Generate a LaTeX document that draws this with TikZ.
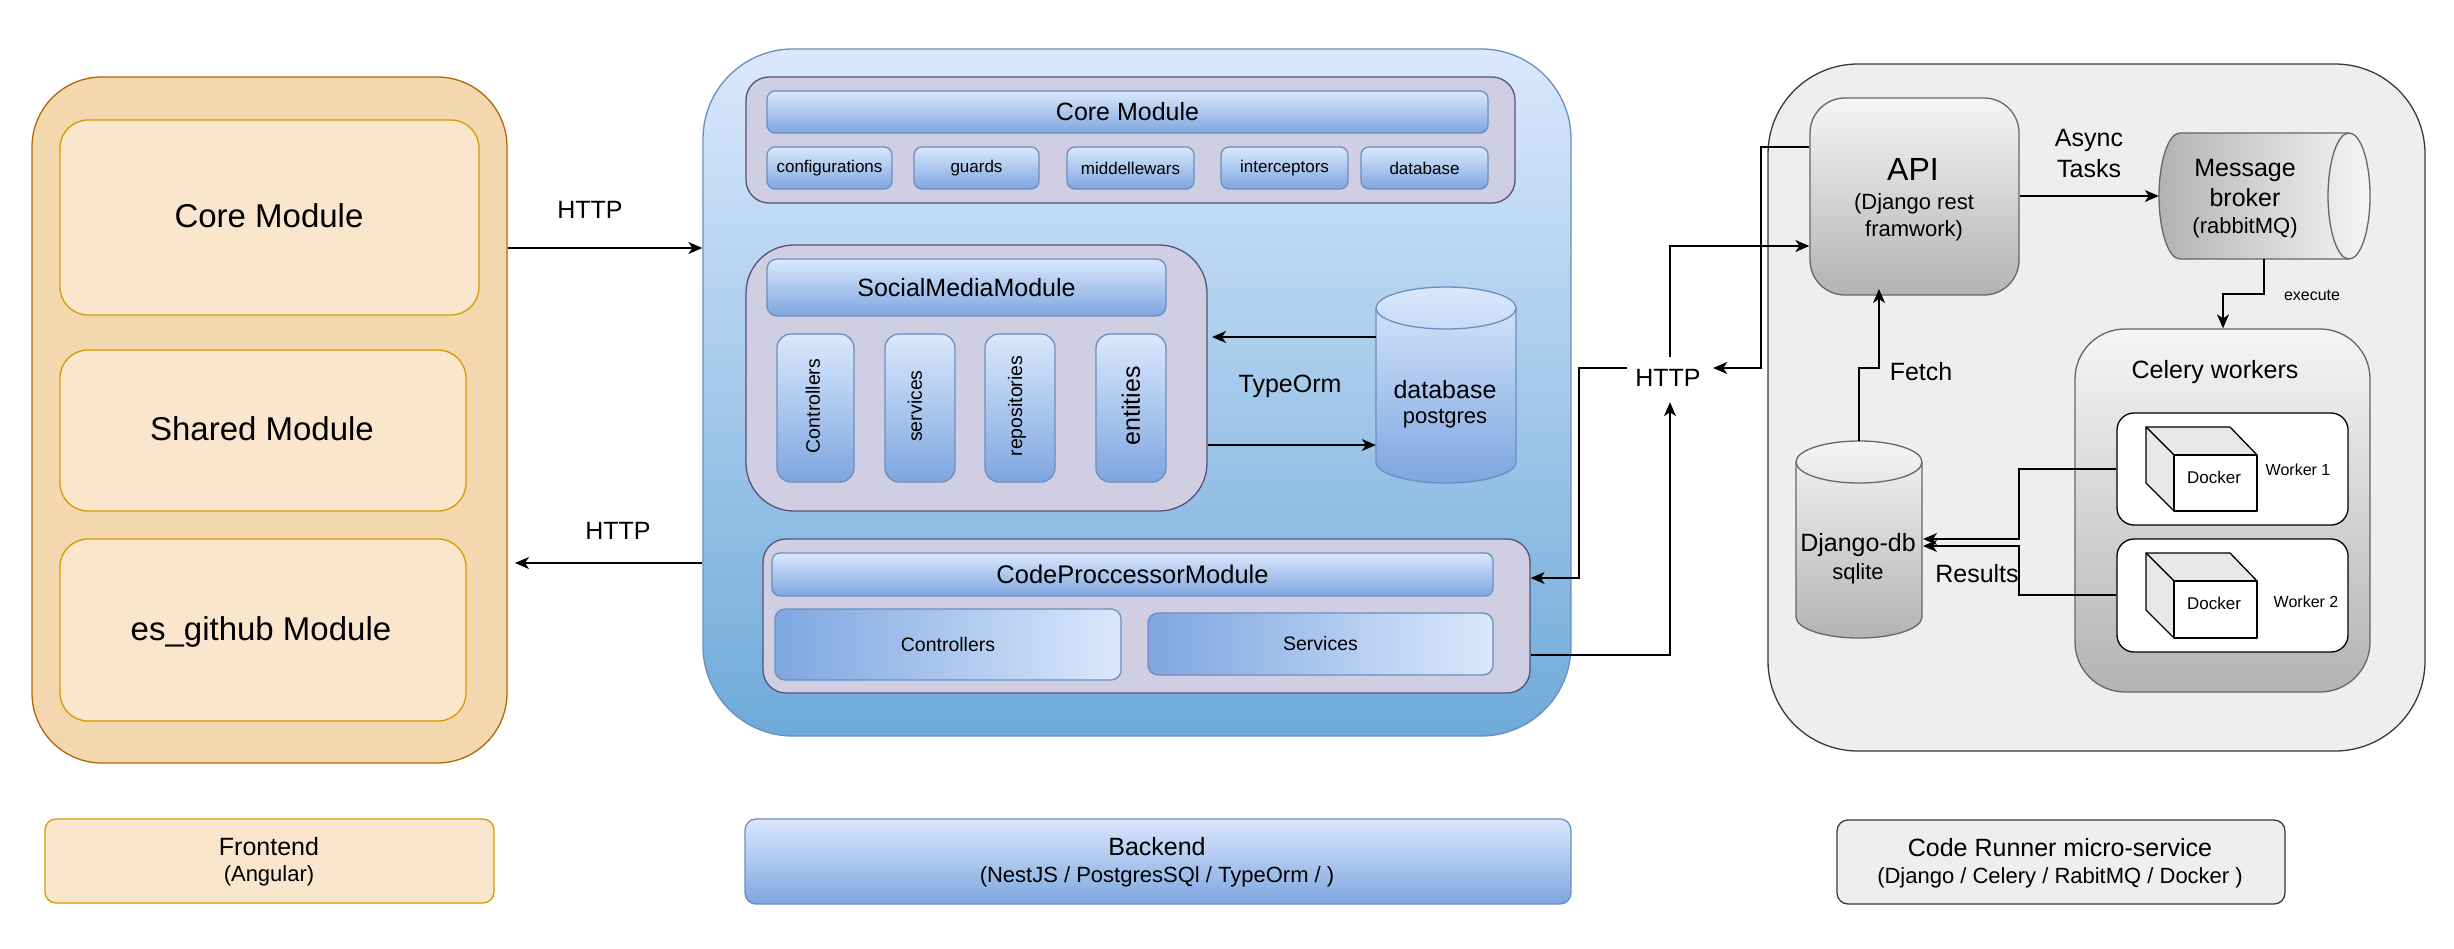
\documentclass[tikz,border=0pt]{standalone}
\usepackage{fontspec}
\setmainfont{Liberation Sans}
\usetikzlibrary{arrows.meta}
\definecolor{orfill}{HTML}{F3D7AE}
\definecolor{orline}{HTML}{B46504}
\definecolor{orin}{HTML}{FAE5CD}
\definecolor{orinl}{HTML}{D79B00}
\definecolor{blt}{HTML}{DAE8FC}
\definecolor{blb}{HTML}{7EA6E0}
\definecolor{bll}{HTML}{6C8EBF}
\definecolor{blo}{HTML}{6EAAD9}
\definecolor{pur}{HTML}{D0CEE2}
\definecolor{purl}{HTML}{56517E}
\definecolor{grl}{HTML}{F5F5F5}
\definecolor{grd}{HTML}{B3B3B3}
\definecolor{grs}{HTML}{666666}
\definecolor{grbg}{HTML}{EEEEEE}
\definecolor{grbl}{HTML}{36393D}
\definecolor{cubeg}{HTML}{E8E8E8}
\newcommand\fs[1]{\fontsize{#1}{#1}\selectfont}
% [style]{name}{x0}{y0}{x1}{y1}{text}
\newcommand\rb[7][]{%
  \pgfmathsetmacro\rbcx{(#3+#5)/2}\pgfmathsetmacro\rbcy{(#4+#6)/2}%
  \pgfmathsetmacro\rbw{#5-#3}\pgfmathsetmacro\rbh{#6-#4}%
  \node[rectangle,inner sep=0pt,minimum width=\rbw pt,minimum height=\rbh pt,#1] (#2) at (\rbcx,\rbcy) {#7};}
% {name}{x}{y}{size}{text}
\newcommand\tx[5]{\node[txt] (#1) at (#2,#3) {\fs{#4}#5};}
\newcommand\rtx[5]{\node[txt,rotate=90] (#1) at (#2,#3) {\fs{#4}#5};}
% vertical cylinder {stroke}{top colour}{bottom colour}{name}{x0}{y0}{x1}{y1}; ry=21
\newcommand\cylv[8]{%
  \pgfmathsetmacro\cyrx{(#7-#5)/2}\pgfmathsetmacro\cyt{#6+21}\pgfmathsetmacro\cyb{#8-21}%
  \path[frame,draw=#1,top color=#2,bottom color=#3] (#5,\cyt) arc[start angle=180,end angle=360,x radius=\cyrx,y radius=21]
     -- (#7,\cyb) arc[start angle=0,end angle=180,x radius=\cyrx,y radius=21] -- cycle;
  \draw[frame,draw=#1] (#5,\cyt) arc[start angle=180,end angle=0,x radius=\cyrx,y radius=21];
  \rb{#4}{#5}{#6}{#7}{#8}{}}
\tikzset{
  x=1pt,y=-1pt,
  txt/.style={inner sep=0pt,align=center,text=black},
  frame/.style={line width=1.3pt},
  feouter/.style={frame,draw=orline,fill=orfill,rounded corners=70pt},
  fein/.style={frame,draw=orinl,fill=orin,rounded corners=28pt},
  felab/.style={frame,draw=orinl,fill=orin,rounded corners=11pt},
  beouter/.style={frame,draw=bll,top color=blt,bottom color=blo,rounded corners=90pt},
  module/.style={frame,draw=purl,fill=pur},
  hdr/.style={frame,draw=bll,top color=blt,bottom color=blb,rounded corners=8pt},
  hdrr/.style={frame,draw=bll,left color=blb,right color=blt,rounded corners=10pt},
  vbox/.style={frame,draw=bll,top color=blt,bottom color=blb,rounded corners=14pt},
  grbox/.style={frame,draw=grs,top color=grl,bottom color=grd},
  runner/.style={frame,draw=grbl,fill=grbg,rounded corners=90pt},
  worker/.style={frame,draw=black,fill=white,rounded corners=17pt},
  cubef/.style={line width=1.3pt,draw=black,line join=round},
  conn/.style={line width=1.5pt,draw=black,-{Stealth[length=14pt,width=12pt,inset=4pt]}},
}
\begin{document}
\begin{tikzpicture}
\useasboundingbox (0,0) rectangle (2454,948);
% Frontend
\rb[feouter]{fe}{32}{77}{507}{763}{}
\rb[fein]{fecore}{60}{120}{479}{315}{}
\rb[fein]{feshared}{60}{350}{466}{511}{}
\rb[fein]{fees}{60}{539}{466}{721}{}
\tx{fecoret}{269}{216}{33}{Core Module}
\tx{fesharedt}{262}{429}{33}{Shared Module}
\tx{feest}{261}{632}{33}{es\_github Module}
\rb[felab]{felabel}{45}{819}{494}{903}{}
\tx{fet1}{269}{847}{25}{Frontend}
\tx{fet2}{269}{876}{22}{(Angular)}
\tx{http1}{590}{210}{25}{HTTP}
\tx{http2}{618}{531}{25}{HTTP}
% Backend
\rb[beouter]{be}{703}{49}{1571}{736}{}
\rb[module,rounded corners=23pt]{bcore}{746}{77}{1515}{203}{}
\rb[hdr]{bcoreh}{767}{91}{1488}{133}{\fs{25}Core Module}
\rb[hdr]{b1}{767}{147}{892}{189}{\fs{17}configurations}
\rb[hdr]{b2}{914}{147}{1039}{189}{\fs{17}guards}
\rb[hdr]{b3}{1067}{147}{1194}{189}{\fs{17}middellewars}
\rb[hdr]{b4}{1221}{147}{1348}{189}{\fs{17}interceptors}
\rb[hdr]{b5}{1361}{147}{1488}{189}{\fs{17}database}
\rb[module,rounded corners=48pt]{social}{746}{245}{1207}{511}{}
\rb[hdr,rounded corners=10pt]{socialh}{767}{259}{1166}{316}{\fs{25}SocialMediaModule}
\rb[vbox]{v1}{777}{334}{854}{482}{}
\rb[vbox]{v2}{885}{334}{955}{482}{}
\rb[vbox]{v3}{985}{334}{1055}{482}{}
\rb[vbox]{v4}{1096}{334}{1166}{482}{}
\rtx{vt1}{813}{406}{19.5}{Controllers}
\rtx{vt2}{915}{406}{19.5}{services}
\rtx{vt3}{1017}{406}{19.5}{repositories}
\rtx{vt4}{1131}{406}{25}{entities}
\cylv{bll}{blt}{blb}{dbp}{1376}{287}{1516}{483}
\tx{dbt1}{1445}{390}{25}{database}
\tx{dbt2}{1445}{419}{22}{postgres}
\tx{typeorm}{1290}{386}{25}{TypeOrm}
\rb[module,rounded corners=23pt]{code}{763}{539}{1530}{693}{}
\rb[hdr]{codeh}{772}{553}{1493}{596}{\fs{25.5}CodeProccessorModule}
\rb[hdrr]{cctrl}{775}{609}{1121}{680}{\fs{19.5}Controllers}
\rb[hdrr]{csvc}{1148}{613}{1493}{675}{\fs{19.5}Services}
\rb[hdr,rounded corners=11pt]{belabel}{745}{819}{1571}{904}{}
\tx{bet1}{1157}{847}{25}{Backend}
\tx{bet2}{1157}{877}{22}{(NestJS / PostgresSQl / TypeOrm / )}
% Runner
\rb[runner]{run}{1768}{64}{2425}{751}{}
\rb[grbox,rounded corners=35pt]{api}{1810}{98}{2019}{295}{}
\tx{apit1}{1913}{169}{32}{API}
\tx{apit2}{1914}{204}{22}{(Django rest}
\tx{apit3}{1914}{231}{22}{framwork)}
\tx{async1}{2089}{140}{25}{Async}
\tx{async2}{2089}{169}{25}{Tasks}
% message broker
\path[frame,draw=grs,left color=grd,right color=grl]
  (2349,133) arc[start angle=270,end angle=450,x radius=21,y radius=63]
  -- (2180,259) arc[start angle=90,end angle=270,x radius=21,y radius=63] -- cycle;
\draw[frame,draw=grs] (2349,133) arc[start angle=270,end angle=90,x radius=21,y radius=63];
\rb{mb}{2159}{133}{2370}{259}{}
\tx{mbt1}{2245}{170}{25}{Message}
\tx{mbt2}{2245}{198}{25}{broker}
\tx{mbt3}{2245}{228}{22}{(rabbitMQ)}
\tx{exec}{2312}{295}{16}{execute}
\rb[grbox,rounded corners=50pt]{celery}{2075}{329}{2370}{692}{}
\tx{celt}{2215}{372}{25}{Celery workers}
\rb[worker]{w1}{2117}{413}{2348}{525}{}
\rb[worker]{w2}{2117}{539}{2348}{652}{}
% cubes
\path[cubef,fill=cubeg] (2146,427) -- (2230,427) -- (2257,455) -- (2174,455) -- cycle;
\path[cubef,fill=cubeg] (2146,427) -- (2174,455) -- (2174,511) -- (2146,483) -- cycle;
\rb[cubef,fill=white]{c1}{2174}{455}{2257}{511}{}
\tx{c1t}{2214}{477}{17}{Docker}
\path[cubef,fill=cubeg] (2146,553) -- (2230,553) -- (2257,581) -- (2174,581) -- cycle;
\path[cubef,fill=cubeg] (2146,553) -- (2174,581) -- (2174,638) -- (2146,610) -- cycle;
\rb[cubef,fill=white]{c2}{2174}{581}{2257}{638}{}
\tx{c2t}{2214}{603}{17}{Docker}
\tx{w1t}{2298}{470}{16}{Worker 1}
\tx{w2t}{2306}{602}{16}{Worker 2}
\cylv{grs}{grl}{grd}{djdb}{1796}{441}{1922}{638}
\tx{djt1}{1858}{545}{25}{Django-db}
\tx{djt2}{1858}{574}{22}{sqlite}
\tx{fetch}{1921}{372}{25}{Fetch}
\tx{results}{1977}{574}{25}{Results}
\rb[frame,draw=grbl,fill=grbg,rounded corners=11pt]{rlabel}{1837}{820}{2285}{904}{}
\tx{rt1}{2060}{848}{25}{Code Runner micro-service}
\tx{rt2}{2060}{878}{22}{(Django / Celery / RabitMQ / Docker )}
% HTTP hub
\rb{hub}{1627}{357}{1713}{402}{}
\tx{hubt}{1668}{378}{25}{HTTP}
% connectors
\draw[conn] (fe.east |- 0,248) -- (be.west |- 0,248);
\draw[conn] (be.west |- 0,563) -- (515,563);
\draw[conn] (dbp.west |- 0,337) -- (1212,337);
\draw[conn] (social.east |- 0,445) -- (dbp.west |- 0,445);
\draw[conn] (hub.west |- 0,368) -- (1579,368) -- (1579,578) -- (code.east |- 0,578);
\draw[conn] (code.east |- 0,655) -- (1670,655) -- (1670,0 |- hub.south);
\draw[conn] (1670,0 |- hub.north) -- (1670,246) -- (api.west |- 0,246);
\draw[conn] (api.west |- 0,147) -- (1761,147) -- (1761,368) -- (hub.east |- 0,368);
\draw[conn] (api.east |- 0,196) -- (mb.west |- 0,196);
\draw[conn] (2264,0 |- mb.south) -- (2264,294) -- (2223,294) -- (2223,0 |- celery.north);
\draw[conn] (1859,0 |- djdb.north) -- (1859,368) -- (1879,368) -- (1879,289);
\draw[conn] (w1.west |- 0,469) -- (2019,469) -- (2019,539) -- (1923,539);
\draw[conn] (w2.west |- 0,595) -- (2019,595) -- (2019,546) -- (1923,546);
\end{tikzpicture}
\end{document}
